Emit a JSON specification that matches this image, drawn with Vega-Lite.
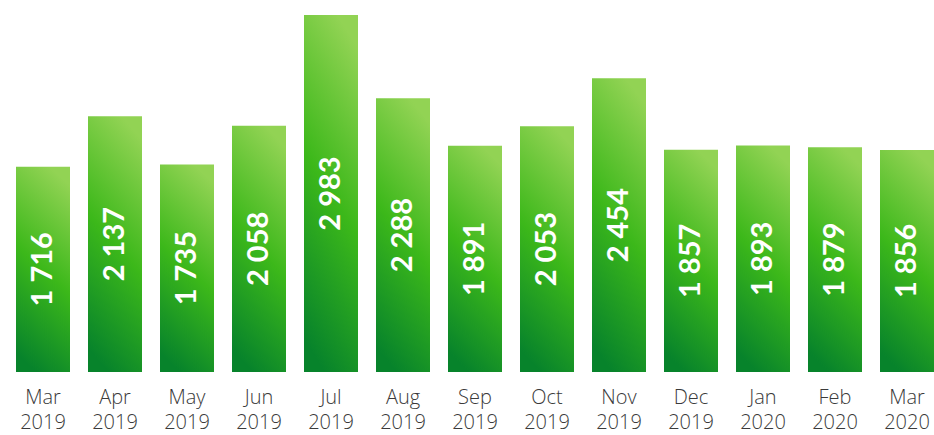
{
  "$schema": "https://vega.github.io/schema/vega-lite/v6.json",
  "width": 918,
  "height": 359,
  "autosize": "none",
  "padding": {"left": 16, "top": 13, "right": 0, "bottom": 63},
  "background": "white",
  "config": {
    "view": {"stroke": null},
    "locale": {"number": {"decimal": ".", "thousands": " ", "grouping": [3], "currency": ["", ""]}}
  },
  "data": {
    "values": [
      {"month": "Mar 2019", "v": 1716},
      {"month": "Apr 2019", "v": 2137},
      {"month": "May 2019", "v": 1735},
      {"month": "Jun 2019", "v": 2058},
      {"month": "Jul 2019", "v": 2983},
      {"month": "Aug 2019", "v": 2288},
      {"month": "Sep 2019", "v": 1891},
      {"month": "Oct 2019", "v": 2053},
      {"month": "Nov 2019", "v": 2454},
      {"month": "Dec 2019", "v": 1857},
      {"month": "Jan 2020", "v": 1893},
      {"month": "Feb 2020", "v": 1879},
      {"month": "Mar 2020", "v": 1856}
    ]
  },
  "encoding": {
    "x": {
      "field": "month", "type": "nominal", "sort": null,
      "scale": {"paddingInner": 0.25, "paddingOuter": 0},
      "axis": {
        "title": null, "domain": false, "ticks": false, "labelAngle": 0,
        "labelExpr": "split(datum.label, ' ')",
        "labelFont": "Open Sans", "labelFontWeight": 300, "labelFontSize": 20, "labelColor": "#3a3a3a",
        "labelPadding": 15, "labelLineHeight": 25, "labelBaseline": "top"
      }
    }
  },
  "layer": [
    {
      "mark": {
        "type": "bar",
        "fill": {
          "gradient": "linear", "x1": 0.38, "y1": 1, "x2": 0.62, "y2": 0,
          "stops": [
            {"offset": 0, "color": "#07832b"},
            {"offset": 0.5, "color": "#3cb81a"},
            {"offset": 1, "color": "#92d354"}
          ]
        }
      },
      "encoding": {
        "y": {"field": "v", "type": "quantitative", "scale": {"domain": [0, 3000]}, "axis": null}
      }
    },
    {
      "mark": {
        "type": "text", "angle": 270, "align": "center", "baseline": "middle",
        "font": "Lato", "fontWeight": "bold", "fontSize": 29, "color": "white"
      },
      "encoding": {
        "y": {"field": "v", "type": "quantitative", "scale": {"domain": [0, 6000]}, "axis": null},
        "text": {"field": "v", "type": "quantitative", "format": ",d"}
      }
    }
  ],
  "resolve": {"scale": {"y": "independent"}}
}
